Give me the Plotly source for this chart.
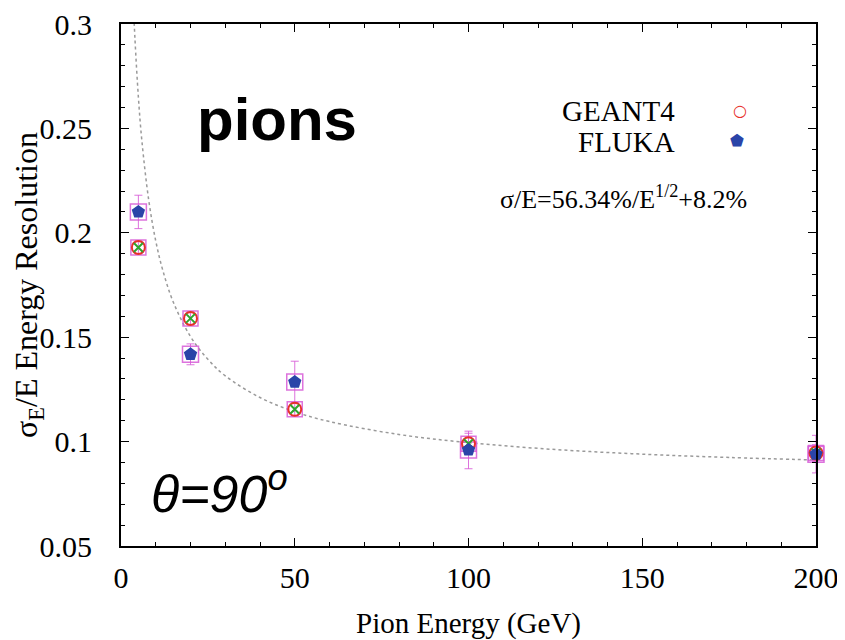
import plotly.graph_objects as go

energy = [5, 20, 50, 100, 200]
geant4_res = [0.193, 0.159, 0.1155, 0.099, 0.0945]
geant4_err = [0.003, 0.003, 0.003, 0.005, 0.004]
fluka_res = [0.210, 0.1418, 0.1285, 0.096, 0.094]
fluka_err = [0.008, 0.005, 0.010, 0.009, 0.009]

fit_energy = [3.5, 4, 5, 6, 8, 10, 12, 15, 20, 25, 30, 40, 50, 60, 80, 100, 125, 150, 175, 200]
fit_res = [0.3121, 0.2934, 0.2650, 0.2442, 0.2154, 0.1961, 0.1822, 0.1670, 0.1503, 0.1394,
           0.1315, 0.1211, 0.1143, 0.1096, 0.1034, 0.0995, 0.0962, 0.0940, 0.0924, 0.0912]

y_ticks = [0.05, 0.1, 0.15, 0.2, 0.25, 0.3]
y_ticktext = ["0.05", "0.1", "0.15", "0.2", "0.25", "0.3"]
x_ticks = [0, 50, 100, 150, 200]

SERIF = "Liberation Serif"
SANS = "Liberation Sans"
MAG = "rgba(215,90,215,0.85)"

fig = go.Figure()

fig.add_trace(go.Scatter(x=fit_energy, y=fit_res, mode="lines",
                         line=dict(color="#9a9a9a", width=1.5, dash="dot", shape="spline"),
                         showlegend=False, hoverinfo="skip"))

# magenta boxes with error bars
fig.add_trace(go.Scatter(x=energy, y=geant4_res, mode="markers", cliponaxis=False,
                         marker=dict(symbol="square-open", size=15, color=MAG, line=dict(width=1.5)),
                         error_y=dict(type="data", array=geant4_err, color=MAG, thickness=1, width=4),
                         showlegend=False))
fig.add_trace(go.Scatter(x=energy, y=fluka_res, mode="markers", cliponaxis=False,
                         marker=dict(symbol="square-open", size=16, color=MAG, line=dict(width=1.5)),
                         error_y=dict(type="data", array=fluka_err, color=MAG, thickness=1, width=4),
                         showlegend=False))
# GEANT4: red open circle + green cross
fig.add_trace(go.Scatter(x=energy, y=geant4_res, mode="markers", name="GEANT4", cliponaxis=False,
                         marker=dict(symbol="circle-open", size=13, color="#e8302a", line=dict(width=2)),
                         showlegend=False))
fig.add_trace(go.Scatter(x=energy, y=geant4_res, mode="markers", cliponaxis=False,
                         marker=dict(symbol="x-thin-open", size=9, color="#2fa52f", line=dict(width=2)),
                         showlegend=False))
# FLUKA: blue pentagon
fig.add_trace(go.Scatter(x=energy, y=fluka_res, mode="markers", name="FLUKA", cliponaxis=False,
                         marker=dict(symbol="pentagon", size=14, color="#2a44a8", line=dict(width=0)),
                         showlegend=False))

annotations = [
    dict(text="<b>pions</b>", x=0.225, y=0.818, xref="paper", yref="paper", showarrow=False,
         font=dict(family=SANS, size=60, color="black"), xanchor="center", yanchor="middle"),
    dict(text="<i>θ=90<sup>o</sup></i>", x=0.040, y=0.108, xref="paper", yref="paper", showarrow=False,
         font=dict(family=SANS, size=52, color="black"), xanchor="left", yanchor="middle"),
    dict(text="GEANT4", x=0.80, y=0.833, xref="paper", yref="paper", showarrow=False,
         font=dict(family=SERIF, size=29, color="black"), xanchor="right", yanchor="middle"),
    dict(text="FLUKA", x=0.80, y=0.774, xref="paper", yref="paper", showarrow=False,
         font=dict(family=SERIF, size=29, color="black"), xanchor="right", yanchor="middle"),
    dict(text="○", x=0.891, y=0.834, xref="paper", yref="paper", showarrow=False,
         font=dict(family="DejaVu Sans", size=16, color="#e8302a"), xanchor="center", yanchor="middle"),
    dict(text="⬟", x=0.886, y=0.776, xref="paper", yref="paper", showarrow=False,
         font=dict(family="DejaVu Sans", size=16, color="#2a44a8"), xanchor="center", yanchor="middle"),
    dict(text="σ/E=56.34%/E<sup>1/2</sup>+8.2%", x=0.543, y=0.668, xref="paper", yref="paper", showarrow=False,
         font=dict(family=SERIF, size=26, color="black"), xanchor="left", yanchor="middle"),
]

axis_common = dict(showline=True, linecolor="black", linewidth=2, mirror="ticks", ticks="inside",
                   tickcolor="black", ticklen=8, tickwidth=1, showgrid=False, zeroline=False,
                   automargin=False, ticklabeloverflow="allow")

# page body has an 8px margin, so the figure is shrunk by that amount
fig.update_layout(
    width=837, height=632,
    margin=dict(l=113, r=29, t=16, b=94),
    plot_bgcolor="white", paper_bgcolor="white",
    annotations=annotations,
    xaxis=dict(range=[0, 200], tickvals=x_ticks, ticktext=[str(v) for v in x_ticks],
               tickfont=dict(family=SERIF, size=30, color="black"), ticklabelstandoff=4,
               minor=dict(dtick=10, ticks="inside", ticklen=4, tickcolor="black", tickwidth=1),
               title=dict(text="Pion Energy (GeV)", font=dict(family=SERIF, size=29, color="black"), standoff=23),
               **axis_common),
    yaxis=dict(range=[0.05, 0.3], tickvals=y_ticks, ticktext=y_ticktext,
               tickfont=dict(family=SERIF, size=30, color="black"), ticklabelstandoff=21,
               minor=dict(dtick=0.01, ticks="inside", ticklen=4, tickcolor="black", tickwidth=1),
               title=dict(text="σ<sub>E</sub>/E Energy Resolution", font=dict(family=SERIF, size=32, color="black"), standoff=8),
               **axis_common),
)

fig.write_html("out.html")
